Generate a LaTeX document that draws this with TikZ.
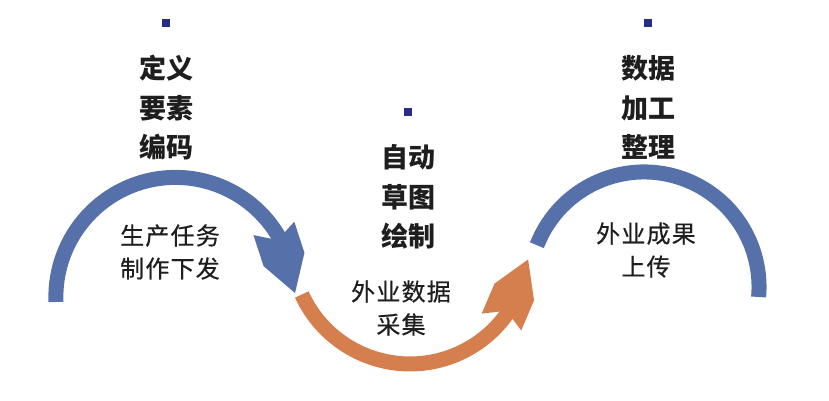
\documentclass[tikz,border=0pt]{standalone}
\usepackage{fontspec}
\newfontfamily\cjk{Noto Sans CJK SC}
\newfontfamily\cjkwide[LetterSpace=5, FakeBold=0.5]{Noto Sans CJK SC}
\usetikzlibrary{positioning, arrows.meta, bending}
\definecolor{arcblue}{RGB}{86,113,170}
\definecolor{arcorange}{RGB}{214,127,78}
\definecolor{marknavy}{RGB}{40,45,130}
\definecolor{textdark}{RGB}{30,30,30}

\pgfdeclarearrow{
        name = BandHead,
        parameters = {\the\pgfarrowlength,\the\pgfarrowwidth},
        setup code = {
                \pgfarrowssettipend{0pt}
                \pgfarrowssetbackend{-\pgfarrowlength}
                \pgfarrowssetlineend{-0.8\pgfarrowlength}
                \pgfarrowshullpoint{0pt}{0pt}
                \pgfarrowshullpoint{-\pgfarrowlength}{0.5\pgfarrowwidth}
                \pgfarrowshullpoint{-\pgfarrowlength}{-0.5\pgfarrowwidth}
                \pgfarrowssavethe\pgfarrowlength
                \pgfarrowssavethe\pgfarrowwidth
        },
        drawing code = {
                \pgfpathmoveto{\pgfpointorigin}
                \pgfpathlineto{\pgfpoint{-0.52\pgfarrowlength}{0.5\pgfarrowwidth}}
                \pgfpathlineto{\pgfpoint{-\pgfarrowlength}{0.5\pgfarrowwidth}}
                \pgfpathlineto{\pgfpoint{-0.82\pgfarrowlength}{0pt}}
                \pgfpathlineto{\pgfpoint{-\pgfarrowlength}{-0.5\pgfarrowwidth}}
                \pgfpathlineto{\pgfpoint{-0.52\pgfarrowlength}{-0.5\pgfarrowwidth}}
                \pgfpathclose
                \pgfusepathqfill
        },
        defaults = {length = 68pt, width = 43pt}
}

\begin{document}
\begin{tikzpicture}[x = 1pt, y = 1pt,
        markbox/.style = {fill = marknavy, minimum size = 8pt, inner sep = 0pt},
        stage/.style = {align = center, inner sep = 0pt, text = textdark, font = \cjk\bfseries\fontsize{27}{39.5}\selectfont},
        task/.style = {align = center, inner sep = 0pt, text = textdark, font = \cjkwide\fontsize{24}{33}\selectfont},
        band/.style = {line width = 15pt},
        bandtip/.style = {-{BandHead[length = 68pt, width = 43pt]}}]
        \useasboundingbox (0, 0) rectangle (829, 401);

        \node [markbox] (mark1) at (166, 378) {} ;
        \node [stage, below = 28pt of mark1] (stage1) {定义\\要素\\编码} ;
        \node [markbox] (mark2) at (408, 289) {} ;
        \node [stage, below = 28pt of mark2] (stage2) {自动\\草图\\绘制} ;
        \node [markbox] (mark3) at (648, 378) {} ;
        \node [stage, below = 28pt of mark3] (stage3) {数据\\加工\\整理} ;

        \node [task] (task1) at (170, 149) {生产任务\\制作下发} ;
        \node [task] (task2) at (401, 93) {外业数据\\采集} ;
        \node [task] (task3) at (646, 151) {外业成果\\上传} ;

        \coordinate (start1) at (56, 99) ;
        \coordinate (start2) at (301.8, 106.5) ;
        \coordinate (start3) at (536.9, 155.8) ;
        \draw [band, bandtip, arcblue] (start1) arc [start angle = 182.4, end angle = 1.9, radius = 119.6] ;
        \draw [band, bandtip, arcorange] (start2) arc [start angle = 204.6, end angle = 353, radius = 119] ;
        \draw [band, arcblue] (start3) arc [start angle = 158.7, end angle = -5, radius = 115] ;
    \end{tikzpicture}
\end{document}
